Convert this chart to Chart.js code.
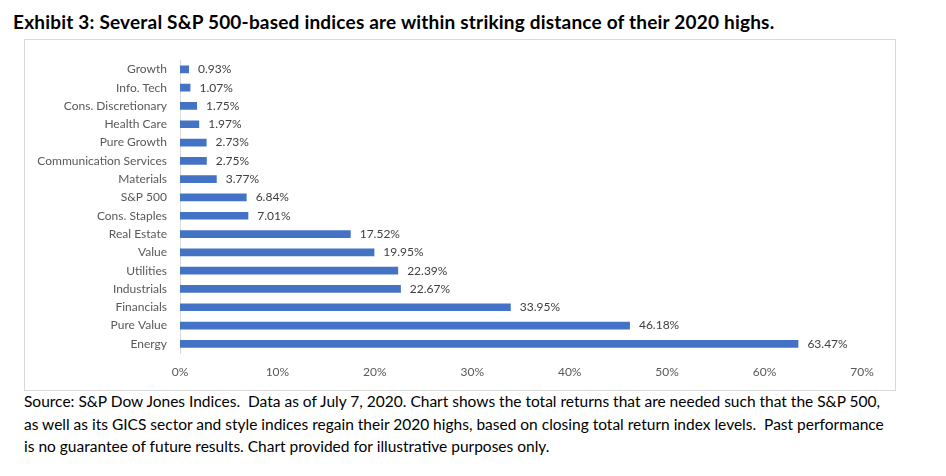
<!DOCTYPE html>
<html>
<head>
<meta charset="utf-8">
<script src="https://cdn.jsdelivr.net/npm/chart.js@4"></script>
<style>
  body { margin:0; background:#fff; width:946px; height:476px; overflow:hidden; font-family:Lato, "Open Sans", sans-serif; }
  #title { position:absolute; left:13px; top:10px; font-size:19px; letter-spacing:0.2px; font-weight:bold; color:#000; white-space:nowrap; }
  #box { position:absolute; left:24px; top:39px; width:870px; height:350px; border:1px solid #d9d9d9; }
  #note { position:absolute; left:24px; top:390px; width:910px; font-size:15.5px; line-height:22.5px; color:#000; white-space:nowrap; }
</style>
</head>
<body>
<div id="title">Exhibit 3: Several S&amp;P 500-based indices are within striking distance of their 2020 highs.</div>
<div id="box"><canvas id="chart"></canvas></div>
<div id="note">Source: S&amp;P Dow Jones Indices.&nbsp; Data as of July 7, 2020. Chart shows the total returns that are needed such that the S&amp;P 500,<br>as well as its GICS sector and style indices regain their 2020 highs, based on closing total return index levels.&nbsp; Past performance<br>is no guarantee of future results. Chart provided for illustrative purposes only.</div>
<script>
// ── DATA ────────────────────────────────────────────
const categories = [
  'Growth','Info. Tech','Cons. Discretionary','Health Care','Pure Growth',
  'Communication Services','Materials','S&P 500','Cons. Staples','Real Estate',
  'Value','Utilities','Industrials','Financials','Pure Value','Energy'
];
const returnsNeeded = [0.93,1.07,1.75,1.97,2.73,2.75,3.77,6.84,7.01,17.52,19.95,22.39,22.67,33.95,46.18,63.47];
const xTicks = [0,10,20,30,40,50,60,70];

// ── LABELS PLUGIN ───────────────────────────────────
const barLabels = {
  id: 'barLabels',
  afterDatasetsDraw(chart) {
    const ctx = chart.ctx;
    const meta = chart.getDatasetMeta(0);
    ctx.save();
    ctx.font = '12px Lato, "Open Sans", sans-serif';
    ctx.fillStyle = '#404040';
    ctx.textBaseline = 'middle';
    meta.data.forEach((bar, i) => {
      ctx.fillText(returnsNeeded[i].toFixed(2) + '%', bar.x + 9, bar.y);
    });
    ctx.restore();
  }
};

// ── CHART ───────────────────────────────────────────
const canvas = document.getElementById('chart');
canvas.width = 870; canvas.height = 350;
new Chart(canvas, {
  type: 'bar',
  data: {
    labels: categories,
    datasets: [{
      data: returnsNeeded,
      backgroundColor: '#4472C4',
      barPercentage: 0.42,
      categoryPercentage: 1
    }]
  },
  options: {
    indexAxis: 'y',
    responsive: false,
    animation: false,
    layout: { padding: { top: 20, right: 33, left: 0, bottom: 0 } },
    plugins: { legend: { display: false }, tooltip: { enabled: false } },
    scales: {
      x: {
        min: 0, max: 70,
        afterBuildTicks: s => { s.ticks = xTicks.map(v => ({ value: v })); },
        afterFit: s => { s.height = 37; },
        grid: { display: false, drawTicks: false },
        border: { display: false },
        ticks: { padding: 12, color: '#595959', font: { size: 12, family: 'Lato' }, callback: v => v + '%' }
      },
      y: {
        afterFit: s => { s.width = 155; },
        grid: { display: false, drawTicks: false },
        border: { display: true, color: '#d9d9d9' },
        ticks: { padding: 13, color: '#595959', font: { size: 12, family: 'Lato' }, autoSkip: false }
      }
    }
  },
  plugins: [barLabels]
});
</script>
</body>
</html>
